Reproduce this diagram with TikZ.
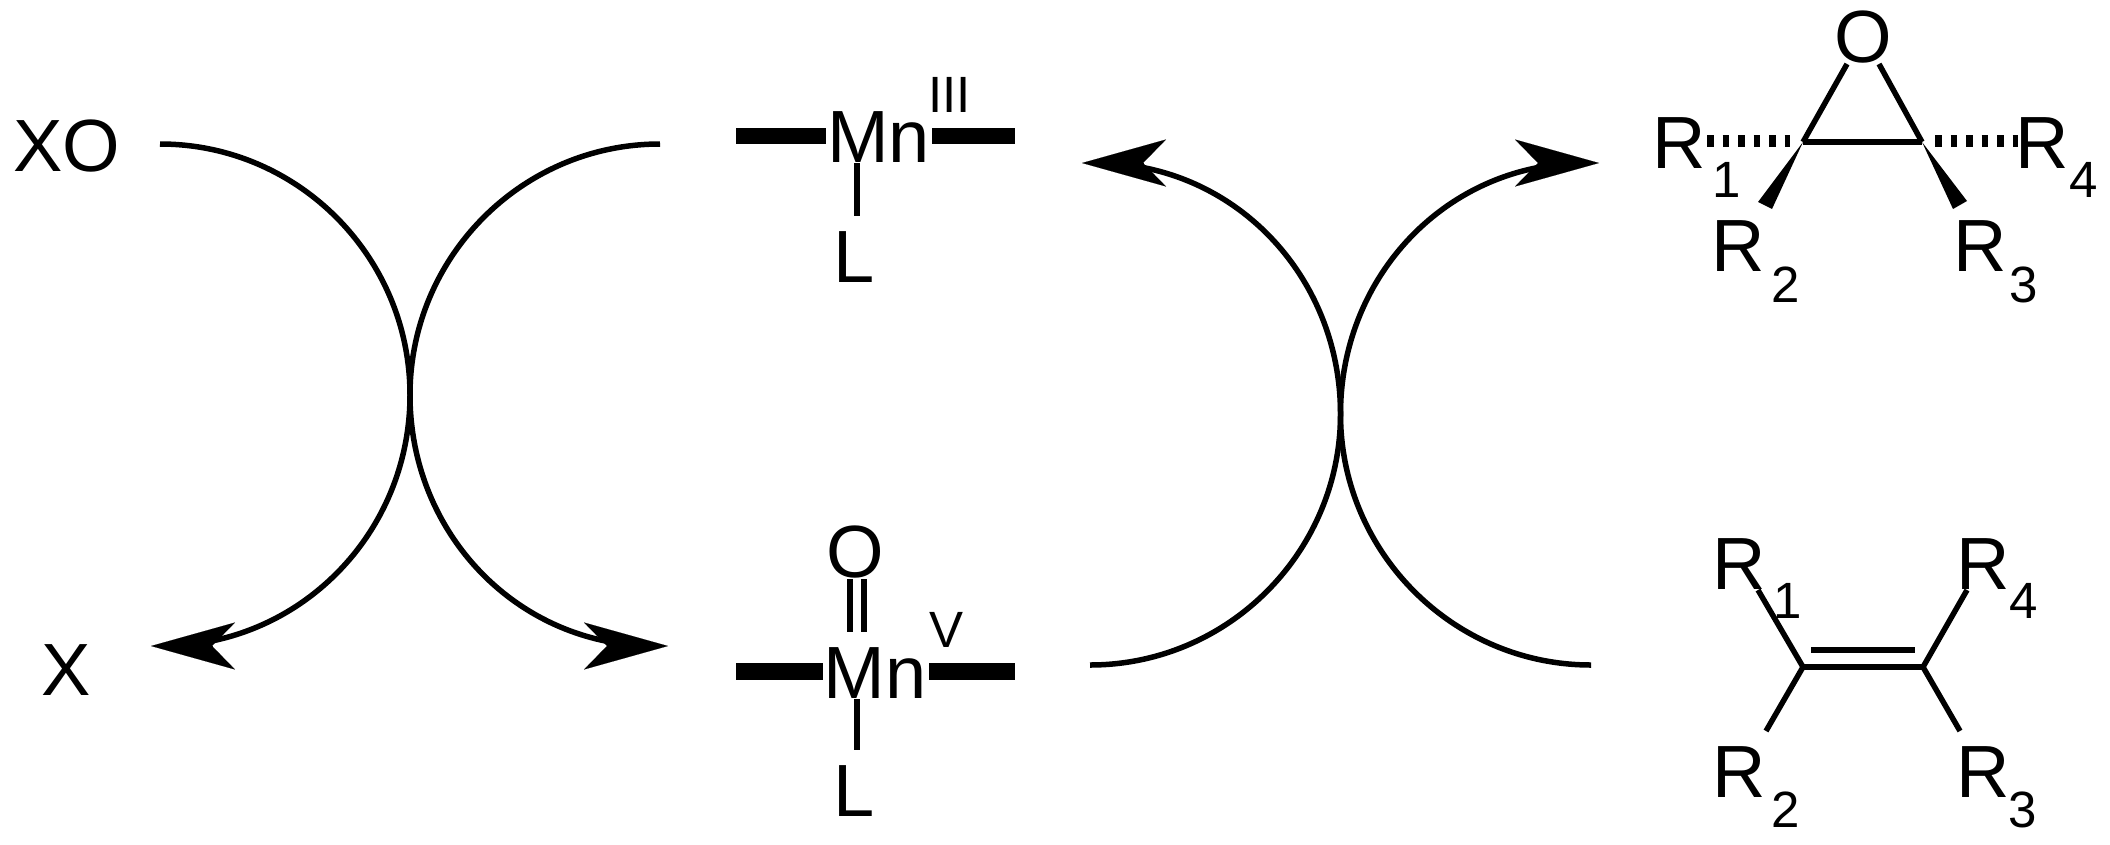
\documentclass[tikz,border=0pt]{standalone}
\usepackage{fontspec}
\setmainfont{Liberation Sans}
\usetikzlibrary{arrows.meta}
\tikzset{
  big/.style={inner sep=0pt,outer sep=0pt,anchor=base,font=\fontsize{74}{74}\selectfont},
  small/.style={inner sep=0pt,outer sep=0pt,anchor=base,font=\fontsize{51}{51}\selectfont},
  curveline/.style={line width=5.5pt},
  headlong/.style={line width=.1pt,-{Stealth[length=84pt,width=47pt,inset=23pt]}},
  thickbar/.style={line width=16.5pt},
  bond/.style={line width=5.5pt},
  hashbond/.style={line width=12pt,dash pattern=on 6.5pt off 9pt},
}
\begin{document}
\begin{tikzpicture}[x=1pt,y=-1pt]
\useasboundingbox (0,0) rectangle (2110,844);
% reagents
\node[big] (xo) at (66.5,171) {XO};
\node[big] (xp) at (66,695) {X};
% Mn(III)
\node[big] (mn3) at (878.5,162) {Mn};
\node[small] (ox3) at (949.5,112) {III};
\node[big] (l3) at (854.5,282) {L};
\coordinate (m3a) at (736,136); \coordinate (m3b) at (826,136);
\coordinate (m3c) at (932,136); \coordinate (m3d) at (1015,136);
\coordinate (m3e) at (857,163); \coordinate (m3f) at (857,216);
\draw[thickbar] (m3a) -- (m3b);
\draw[thickbar] (m3c) -- (m3d);
\draw[bond] (m3e) -- (m3f);
% Mn(V)=O
\node[big] (o5) at (855,577) {O};
\node[big] (mn5) at (875,698) {Mn};
\node[small] (ox5) at (946,647) {V};
\node[big] (l5) at (854.5,816) {L};
\coordinate (m5a) at (736,671.5); \coordinate (m5b) at (823,671.5);
\coordinate (m5c) at (929,671.5); \coordinate (m5d) at (1015,671.5);
\coordinate (m5e) at (857,699); \coordinate (m5f) at (857,750);
\coordinate (m5g) at (850,579); \coordinate (m5h) at (850,632);
\coordinate (m5i) at (864,579); \coordinate (m5j) at (864,632);
\draw[thickbar] (m5a) -- (m5b);
\draw[thickbar] (m5c) -- (m5d);
\draw[bond] (m5e) -- (m5f);
\draw[bond] (m5g) -- (m5h);
\draw[bond] (m5i) -- (m5j);
% curved connectors
\coordinate (j1) at (410,395);
\coordinate (j2) at (1340.5,414);
\coordinate (s1) at (160,144); \coordinate (e1) at (162,646);
\coordinate (s2) at (660,144); \coordinate (e2) at (655,646);
\coordinate (s3) at (1090,665); \coordinate (e3) at (1096,163);
\coordinate (s4) at (1591,665); \coordinate (e4) at (1585,163);
\draw[curveline] (s1) .. controls +(138,0) and +(0,-138) .. (j1) .. controls +(0,138) and +(138,0) .. (e1);
\draw[curveline] (s2) .. controls +(-138,0) and +(0,-138) .. (j1) .. controls +(0,138) and +(-138,0) .. (e2);
\draw[curveline] (s3) .. controls +(138,0) and +(0,138) .. (j2) .. controls +(0,-138) and +(138,0) .. (e3);
\draw[curveline] (s4) .. controls +(-138,0) and +(0,138) .. (j2) .. controls +(0,-138) and +(-138,0) .. (e4);
% arrow heads
\coordinate (t1) at (151,646); \coordinate (n1) at (212,646);
\coordinate (t2) at (668,646); \coordinate (n2) at (608,646);
\coordinate (t3) at (1082,163); \coordinate (n3) at (1143,163);
\coordinate (t4) at (1599,163); \coordinate (n4) at (1539,163);
\draw[headlong] (n1) -- (t1);
\draw[headlong] (n2) -- (t2);
\draw[headlong] (n3) -- (t3);
\draw[headlong] (n4) -- (t4);
% epoxide
\node[big] (eo) at (1863,62) {O};
\node[big] (er1) at (1679.7,168) {R};
\node[small] (es1) at (1727,197) {1};
\node[big] (er4) at (2041.7,168) {R};
\node[small] (es4) at (2083.5,197) {4};
\node[big] (er2) at (1738.7,271) {R};
\node[small] (es2) at (1785.5,302) {2};
\node[big] (er3) at (1979.7,271) {R};
\node[small] (es3) at (2024,302) {3};
\coordinate (ec1) at (1803,142); \coordinate (ec2) at (1922,142);
\coordinate (eo1) at (1847,64); \coordinate (eo2) at (1879,64);
\coordinate (eh1) at (1707,141); \coordinate (eh1e) at (1790,141);
\coordinate (eh2) at (1935,141); \coordinate (eh2e) at (2018,141);
\coordinate (ew1a) at (1758,202); \coordinate (ew1b) at (1772,209);
\coordinate (ew2a) at (1953,209); \coordinate (ew2b) at (1967,201);
\draw[bond] (eo1) -- (ec1);
\draw[bond] (eo2) -- (ec2);
\draw[bond] (ec1) -- (ec2);
\draw[hashbond] (eh1) -- (eh1e);
\draw[hashbond] (eh2) -- (eh2e);
\fill (ec1) -- (ew1a) -- (ew1b) -- cycle;
\fill (ec2) -- (ew2a) -- (ew2b) -- cycle;
% alkene
\node[big] (ar1) at (1739.7,589) {R};
\node[small] (as1) at (1787.5,618) {1};
\node[big] (ar4) at (1982.7,589) {R};
\node[small] (as4) at (2023.5,618) {4};
\node[big] (ar2) at (1739.7,797) {R};
\node[small] (as2) at (1786,827) {2};
\node[big] (ar3) at (1982.7,797) {R};
\node[small] (as3) at (2023,827) {3};
\coordinate (ac1) at (1803,667); \coordinate (ac2) at (1923,667);
\coordinate (ad1) at (1811,650); \coordinate (ad2) at (1915,650);
\coordinate (ab1) at (1758,590); \coordinate (ab4) at (1967,590);
\coordinate (ab2) at (1766,731); \coordinate (ab3) at (1960,731);
\draw[bond] (ac1) -- (ac2);
\draw[bond] (ad1) -- (ad2);
\draw[bond] (ab1) -- (ac1) -- (ab2);
\draw[bond] (ab4) -- (ac2) -- (ab3);
\end{tikzpicture}
\end{document}
